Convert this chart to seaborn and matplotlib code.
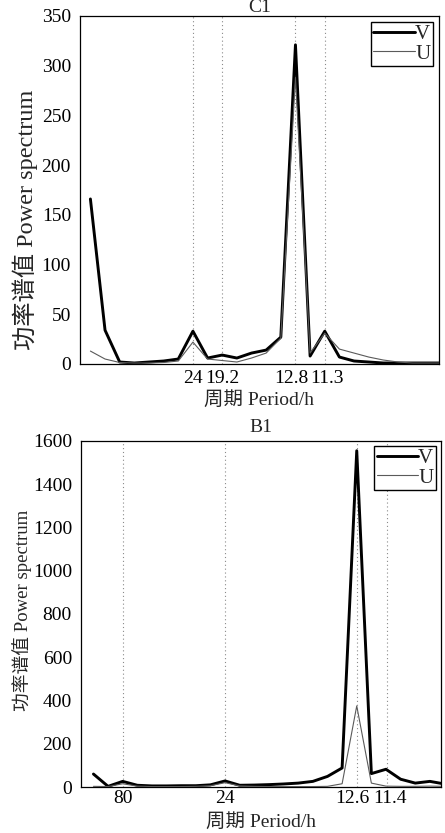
import numpy as np
import pandas as pd
import matplotlib
matplotlib.use("Agg")
import matplotlib.pyplot as plt
from matplotlib.transforms import ScaledTranslation
import seaborn as sns

# Harmonic index of each spectral estimate (frequency = k / record length)
harmonic = list(range(1, 26))

# Station C1, record length 192 h
c1_record_hours = 192
c1_v = [166, 34, 2, 1, 2, 3, 5, 33, 6, 9, 6, 11, 14, 27, 321, 8, 33, 7, 3, 2, 1, 1, 1, 1, 1]
c1_u = [13, 5, 1.5, 1, 1, 1.5, 3, 22, 5, 3.5, 2, 6, 11, 26, 288, 11, 31, 15, 11, 7, 4, 2, 1, 1, 1]
c1_tick_periods = [24, 19.2, 12.8, 11.3]
c1_tick_labels = ["24", "19.2", "12.8", "11.3"]

# Station B1, record length 240 h
b1_record_hours = 240
b1_v = [60, 3, 26, 8, 5, 5, 6, 6, 10, 28, 8, 9, 11, 14, 18, 26, 49, 88, 1555, 62, 82, 36, 18, 26, 14]
b1_u = [3, 2, 15, 4, 2, 2, 2, 3, 6, 20, 5, 3, 2, 2, 2, 2, 3, 15, 375, 18, 4, 3, 3, 4, 3]
b1_tick_periods = [80, 24, 12.6, 11.4]
b1_tick_labels = ["80", "24", "12.6", "11.4"]

sns.set_style("white")
plt.rcParams["font.family"] = ["Liberation Serif", "Noto Sans CJK SC"]
plt.rcParams["axes.unicode_minus"] = False

W, H = 445, 833
fig = plt.figure(figsize=(W / 100, H / 100), dpi=100)


def px_axes(left, top, right, bottom):
    return fig.add_axes([left / W, 1 - bottom / H, (right - left) / W, (bottom - top) / H])


def draw_panel(ax, record, v, u, tick_periods, tick_labels, label_shift_px, xlim_k,
               ymax, ystep, xpad, title, title_y, ylabel_size, ylabel_xy, xlabel_xy,
               legend_anchor):
    freq = np.array(harmonic) / record
    df = pd.DataFrame({"freq": freq, "V": v, "U": u})
    sns.lineplot(data=df, x="freq", y="V", ax=ax, color="black", lw=2.1,
                 label="V", zorder=3)
    sns.lineplot(data=df, x="freq", y="U", ax=ax, color="#5a5a5a", lw=0.8,
                 label="U", zorder=4)

    ax.set_xlim(xlim_k[0] / record, xlim_k[1] / record)
    ax.set_ylim(0, ymax)
    ax.set_yticks(np.arange(0, ymax + 1, ystep))
    ax.set_xticks([1 / p for p in tick_periods])
    ax.set_xticklabels(tick_labels)
    ax.tick_params(axis="both", direction="in", length=3.6, width=0.8,
                   labelsize=14, colors="black")
    ax.tick_params(axis="y", pad=6.5)
    ax.tick_params(axis="x", pad=xpad)
    for lab, dx in zip(ax.get_xticklabels(), label_shift_px):
        lab.set_transform(lab.get_transform()
                          + ScaledTranslation(dx / 100, 0, fig.dpi_scale_trans))
    ax.grid(axis="x", linestyle=(0, (1, 2.5)), color="#8a8a8a", lw=0.8)
    ax.grid(axis="y", visible=False)
    for sp in ax.spines.values():
        sp.set_visible(True)
        sp.set_color("black")
        sp.set_linewidth(0.9)

    ax.text(0.5, title_y, title, transform=ax.transAxes, ha="center",
            va="center", fontsize=14)
    ax.set_xlabel("周期 Period/h", fontsize=14)
    ax.xaxis.label.set(va="center")
    ax.xaxis.set_label_coords(*xlabel_xy)
    ax.set_ylabel("功率谱值 Power spectrum", fontsize=ylabel_size)
    ax.yaxis.label.set(va="center")
    ax.yaxis.set_label_coords(*ylabel_xy)

    leg = ax.legend(loc="upper right", bbox_to_anchor=legend_anchor,
                    fontsize=15, frameon=True, fancybox=False,
                    handlelength=2.0, handletextpad=0.0, labelspacing=0.0,
                    borderpad=0.12, borderaxespad=0.0)
    frame = leg.get_frame()
    frame.set_edgecolor("black")
    frame.set_linewidth(1.0)
    frame.set_alpha(1)


ax1 = px_axes(80, 16, 439, 364)
draw_panel(ax1, c1_record_hours, c1_v, c1_u, c1_tick_periods, c1_tick_labels,
           [0, 0, -4, 2.5], (0.29, 24.8), 350, 50, 4.0, "C1", 1.024, 17.5,
           (-0.153, 0.414), (0.5, -0.103), (0.983, 0.983))

ax2 = px_axes(81, 441, 441, 787)
draw_panel(ax2, b1_record_hours, b1_v, b1_u, b1_tick_periods, b1_tick_labels,
           [0, 0, -5, 3.5], (0.15, 24.76), 1600, 200, 2.0, "B1", 1.04, 13.5,
           (-0.163, 0.51), (0.5, -0.1), (0.986, 0.986))

fig.savefig("out.png", dpi=100, facecolor="white")
